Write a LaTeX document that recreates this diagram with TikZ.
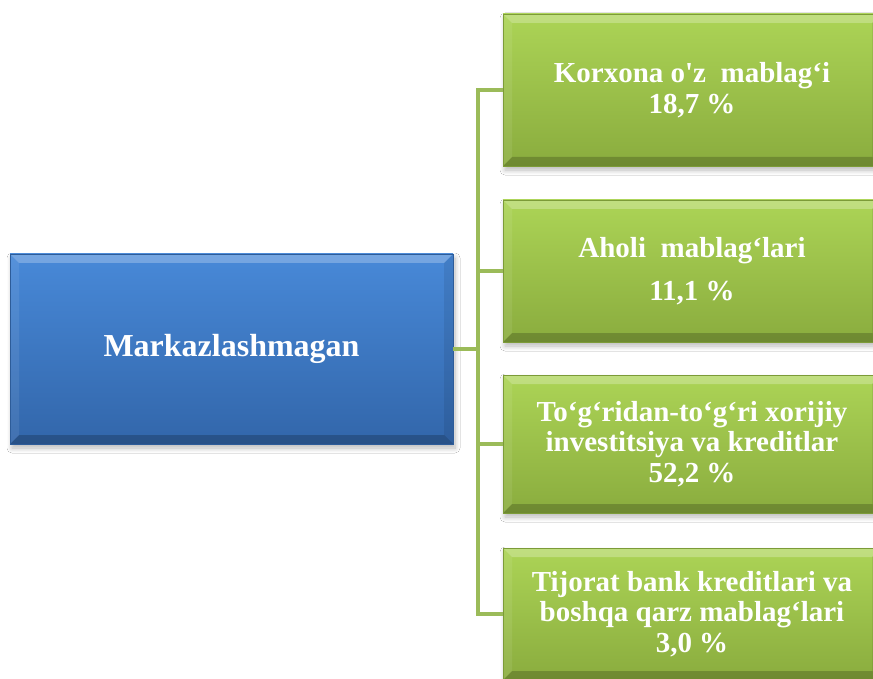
\documentclass[tikz,border=0pt]{standalone}
\usepackage{fontspec}
\setmainfont{Liberation Serif}[Ligatures=TeXOff]
\usetikzlibrary{calc,shadows.blur}

\definecolor{bluetop}{RGB}{72,137,216}
\definecolor{bluebot}{RGB}{50,102,170}
\definecolor{greentop}{RGB}{172,212,86}
\definecolor{greenbot}{RGB}{138,172,62}
\definecolor{linkgreen}{RGB}{155,187,89}

\tikzset{
  bevel/.style={path picture={
      \fill[white,opacity=.25] (path picture bounding box.north west) -- (path picture bounding box.north east)
        -- ([shift={(-9pt,-9pt)}]path picture bounding box.north east) -- ([shift={(9pt,-9pt)}]path picture bounding box.north west) -- cycle;
      \fill[black,opacity=.2] (path picture bounding box.south west) -- (path picture bounding box.south east)
        -- ([shift={(-9pt,9pt)}]path picture bounding box.south east) -- ([shift={(9pt,9pt)}]path picture bounding box.south west) -- cycle;
      \fill[white,opacity=.08] (path picture bounding box.north west) -- ([shift={(9pt,-9pt)}]path picture bounding box.north west)
        -- ([shift={(9pt,9pt)}]path picture bounding box.south west) -- (path picture bounding box.south west) -- cycle;
      \fill[black,opacity=.08] (path picture bounding box.north east) -- ([shift={(-9pt,-9pt)}]path picture bounding box.north east)
        -- ([shift={(-9pt,9pt)}]path picture bounding box.south east) -- (path picture bounding box.south east) -- cycle;
    }},
  box/.style={rectangle, bevel, align=center, text=white, font=\bfseries,
    blur shadow={shadow xshift=2pt, shadow yshift=-4pt, shadow blur radius=5pt, shadow blur steps=8, shadow opacity=28}},
  bluebox/.style={box, top color=bluetop, bottom color=bluebot, draw=bluebot!90!black, line width=.3pt,
    minimum width=443pt, minimum height=190pt, font=\bfseries\fontsize{32}{36}\selectfont},
  greenbox/.style={box, top color=greentop, bottom color=greenbot, draw=greenbot!90!black, line width=.3pt,
    minimum width=378pt, font=\bfseries\fontsize{29}{30.5}\selectfont},
  link/.style={draw=linkgreen, line width=4pt}
}

\begin{document}
\begin{tikzpicture}[x=1pt, y=-1pt]
  \useasboundingbox[fill=white] (0,0) rectangle (873,679);

  \node[bluebox] (mark) at (231.5,349) {Markazlashmagan};

  \node[greenbox, minimum height=152pt] (korx) at (692,90) {Korxona o'z\ \ mablag‘i\\18,7 \%};
  \node[greenbox, minimum height=142pt] (aholi) at (692,271) {Aholi\ \ mablag‘lari\\[12pt]11,1 \%};
  \node[greenbox, minimum height=138pt] (xorij) at (692,444) {To‘g‘ridan-to‘g‘ri xorijiy\\investitsiya va kreditlar\\52,2 \%};
  \node[greenbox, minimum height=132pt] (bank) at (692,614) {Tijorat bank kreditlari va\\boshqa qarz mablag‘lari\\3,0 \%};

  \coordinate (trunk) at ($(mark.east)!.5!(korx.west)$);

  \draw[link] (mark.east) -- (mark.east -| trunk);
  \draw[link] (korx.west) -- (korx.west -| trunk) -- (bank.west -| trunk) -- (bank.west);
  \draw[link] (aholi.west) -- (aholi.west -| trunk);
  \draw[link] (xorij.west) -- (xorij.west -| trunk);
\end{tikzpicture}
\end{document}
